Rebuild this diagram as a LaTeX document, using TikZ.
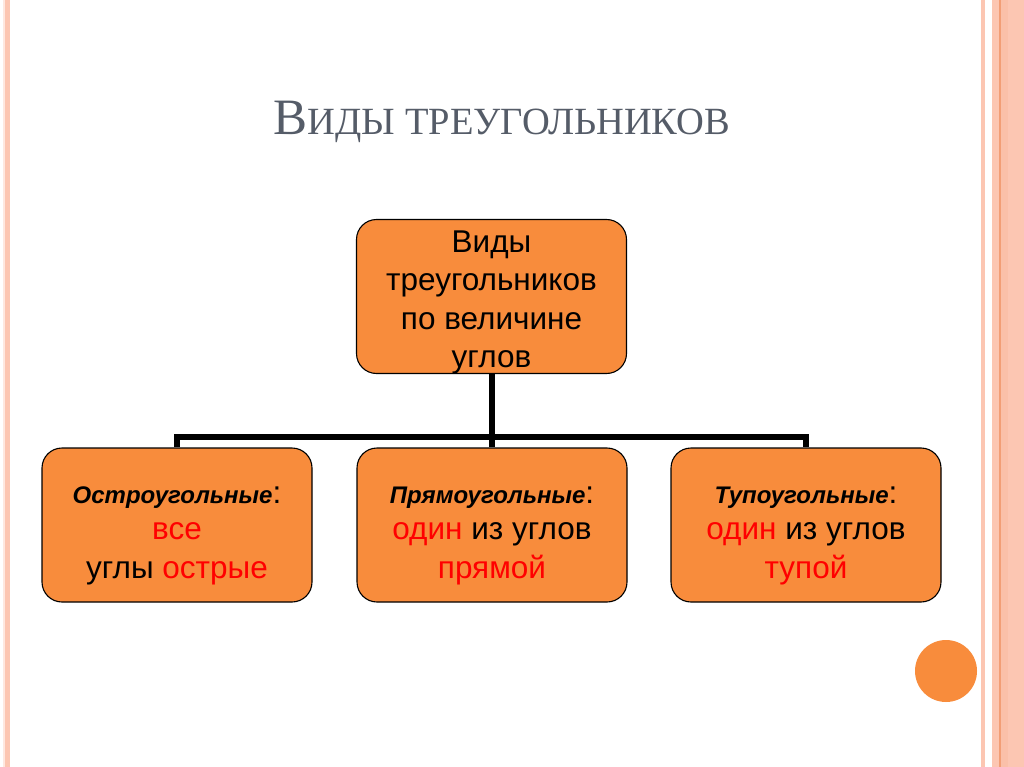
\documentclass[tikz,border=0pt]{standalone}
\usepackage{fontspec}
\setmainfont{Liberation Sans}
\newfontfamily\titlefont{Liberation Serif}
\usetikzlibrary{positioning,calc}
\definecolor{boxorange}{RGB}{248,140,60}
\definecolor{stripe}{RGB}{252,198,178}
\definecolor{stripedark}{RGB}{242,158,118}
\definecolor{titlegray}{RGB}{85,92,104}
% lower a centred block of lines without changing its size
\newcommand{\boxlines}[2]{\raisebox{-#1}[\height][\depth]{\begin{tabular}{@{}c@{}}#2\end{tabular}}}
\begin{document}
\begin{tikzpicture}[x=1pt,y=-1pt,
        kbox/.style={draw=black, line width=1.1pt, rounded corners=20pt, fill=boxorange,
                     minimum width=270pt, minimum height=154pt, align=center, inner sep=0pt,
                     font=\fontsize{31.5}{38.5}\selectfont},
        link/.style={line width=6pt}
    ]
    \useasboundingbox[fill=white] (0,0) rectangle (1024,767);
    % frame stripes
    \fill[stripe!40] (3,0) rectangle (5,767);
    \fill[stripe] (5,0) rectangle (10,767);
    \fill[stripe] (981,0) rectangle (985,767);
    \fill[stripe] (992,0) rectangle (1024,767);
    \fill[stripe!85!stripedark] (1000,0) rectangle (1008,767);
    \draw[stripedark, line width=1.2pt] (1000,0) -- (1000,767);
    \fill[boxorange] (946,671) circle (31pt);
    \node[anchor=base, text=titlegray, font=\titlefont] (title) at (502,135) {%
      {\fontsize{51}{54}\selectfont В}{\fontsize{38.5}{54}\selectfont ИДЫ ТРЕУГОЛЬНИКОВ}%
    };
    \node[kbox, minimum height=153pt] (root) at (491.5,296.5) {%
      \boxlines{6pt}{Виды\\треугольников\\по величине\\углов}%
    };
    \node[kbox] (acute) at (177,525) {%
      \boxlines{8pt}{{\fontsize{24}{38}\selectfont\bfseries\itshape Остроугольные}:\\[-2pt]
      \textcolor{red}{все}\\
      углы \textcolor{red}{острые}}%
    };
    \node[kbox] (rightt) at (492,525) {%
      \boxlines{8pt}{{\fontsize{24}{38}\selectfont\bfseries\itshape Прямоугольные}:\\[-2pt]
      \textcolor{red}{один} из углов\\
      \textcolor{red}{прямой}}%
    };
    \node[kbox] (obtuse) at (806,525) {%
      \boxlines{8pt}{{\fontsize{24}{38}\selectfont\bfseries\itshape Тупоугольные}:\\[-2pt]
      \textcolor{red}{один} из углов\\
      \textcolor{red}{тупой}}%
    };
    \coordinate (bar) at (491.5,437);
    \draw[link] (root.south) -- (root.south |- bar);
    \draw[link] (acute.north) -- (acute.north |- bar) -- (obtuse.north |- bar) -- (obtuse.north);
    \draw[link] (rightt.north |- bar) -- (rightt.north);
\end{tikzpicture}
\end{document}
